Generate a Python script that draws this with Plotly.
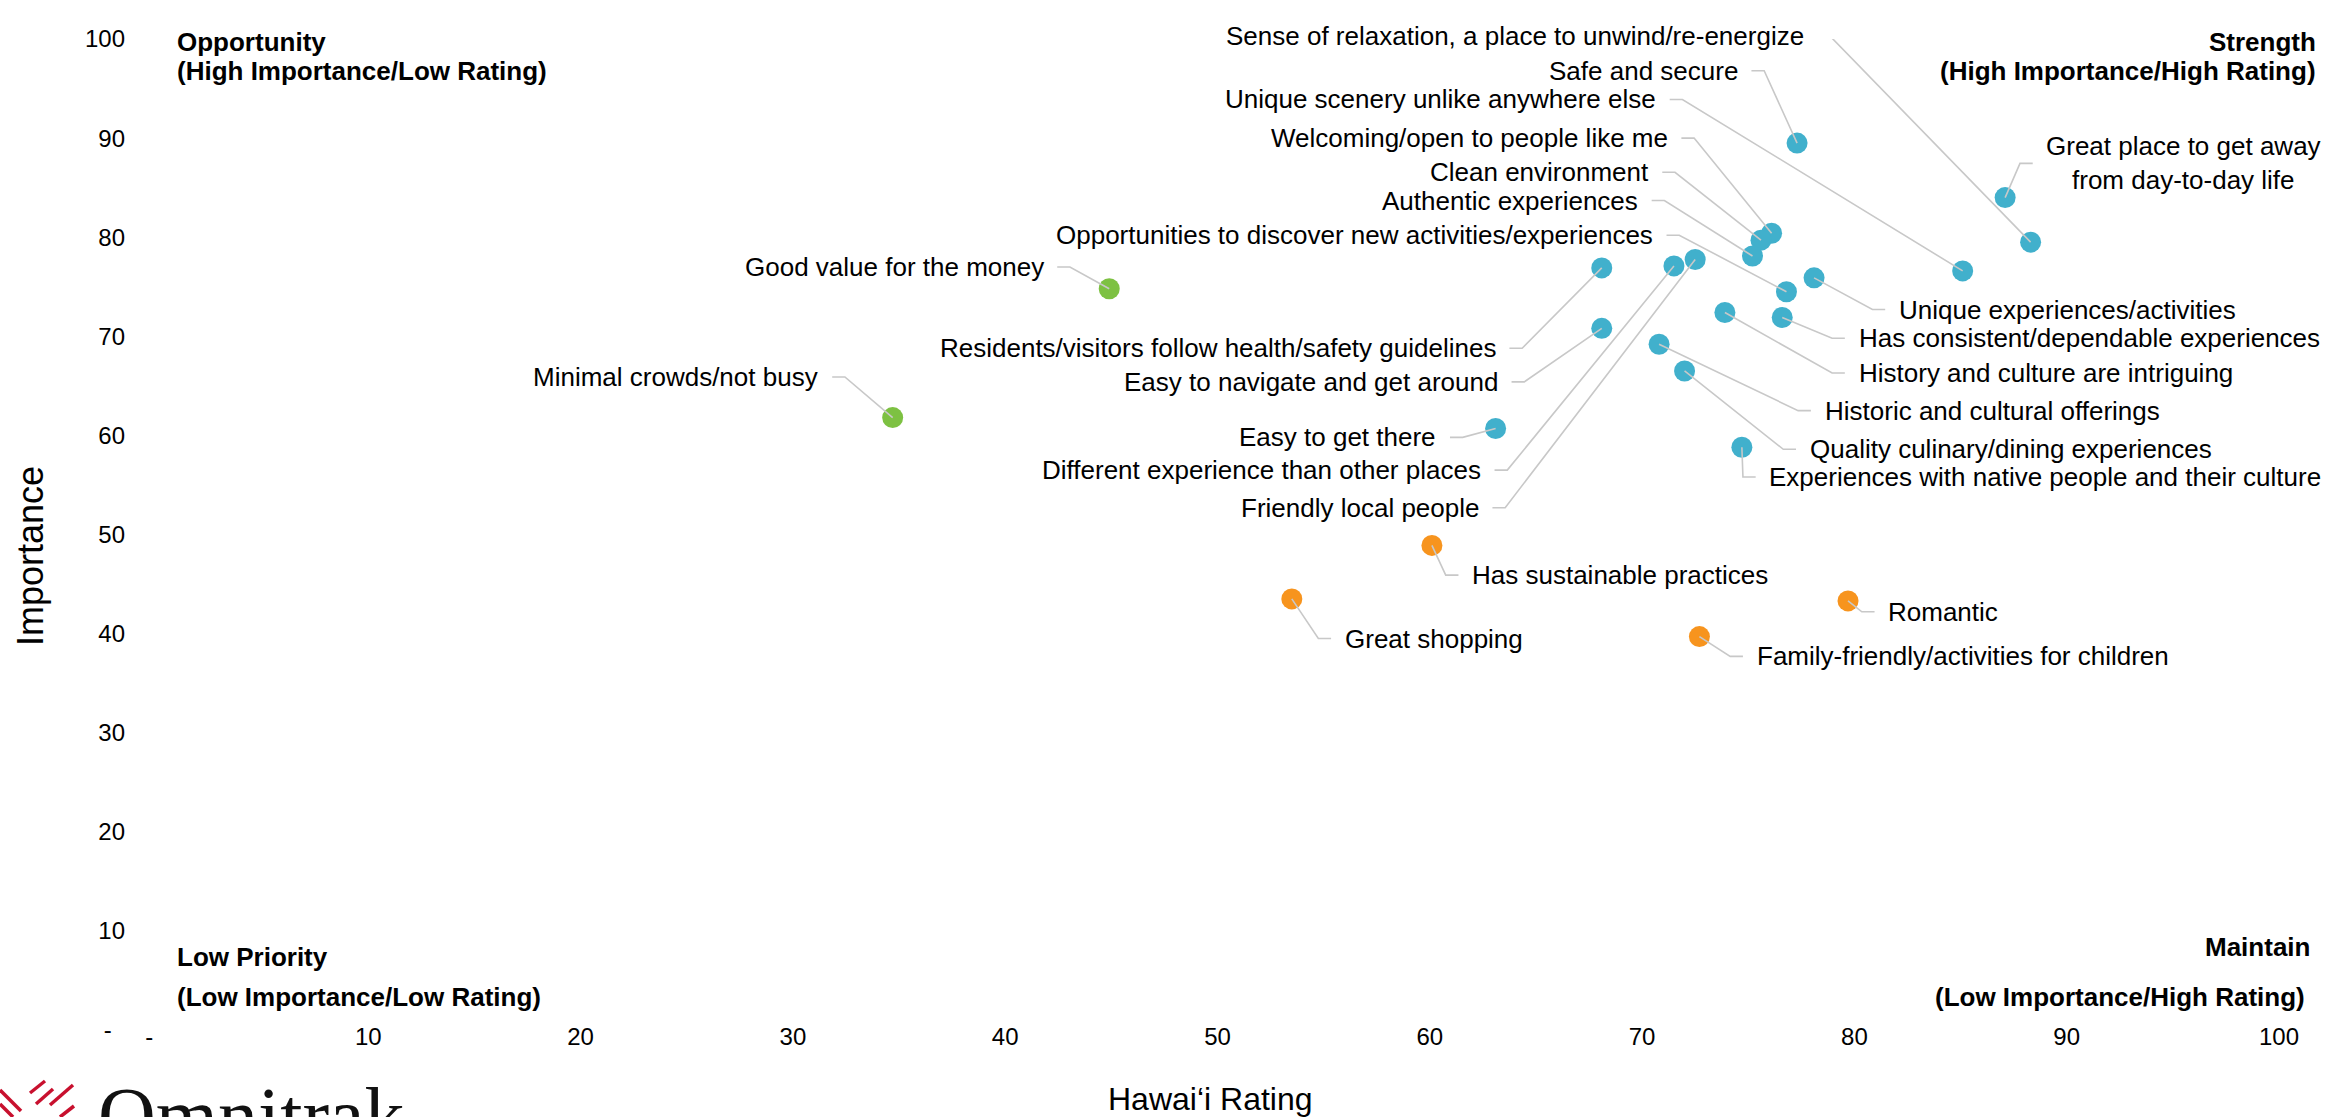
import plotly.graph_objects as go

# Hawai'i attribute scores: rating (x) vs importance (y)
attributes = [
    "Sense of relaxation, a place to unwind/re-energize",
    "Safe and secure",
    "Unique scenery unlike anywhere else",
    "Welcoming/open to people like me",
    "Clean environment",
    "Authentic experiences",
    "Opportunities to discover new activities/experiences",
    "Great place to get away<br>from day-to-day life",
    "Unique experiences/activities",
    "Has consistent/dependable experiences",
    "History and culture are intriguing",
    "Historic and cultural offerings",
    "Quality culinary/dining experiences",
    "Experiences with native people and their culture",
    "Residents/visitors follow health/safety guidelines",
    "Easy to navigate and get around",
    "Easy to get there",
    "Different experience than other places",
    "Friendly local people",
    "Good value for the money",
    "Minimal crowds/not busy",
    "Has sustainable practices",
    "Great shopping",
    "Romantic",
    "Family-friendly/activities for children",
]
rating = [88.3, 77.3, 85.1, 76.1, 75.6, 75.2, 76.8, 87.1, 78.1, 76.6, 73.9, 70.8, 72.0,
          74.7, 68.1, 68.1, 63.1, 71.5, 72.5, 44.9, 34.7, 60.1, 53.5, 79.7, 72.7]
importance = [79.5, 89.5, 76.6, 80.4, 79.7, 78.1, 74.5, 84.0, 75.9, 71.9, 72.4, 69.2, 66.5,
              58.8, 76.9, 70.8, 60.7, 77.1, 77.75, 74.8, 61.8, 48.9, 43.5, 43.3, 39.7]
group = ["Strength"] * 19 + ["Opportunity"] * 2 + ["Maintain"] * 4

x_ticks = [0, 10, 20, 30, 40, 50, 60, 70, 80, 90, 100]
x_tick_text = ["-\u00a0\u00a0", "10", "20", "30", "40", "50", "60", "70", "80", "90", "100"]
y_ticks = [0, 10, 20, 30, 40, 50, 60, 70, 80, 90, 100]
y_tick_text = ["-\u00a0\u00a0", "10", "20", "30", "40", "50", "60", "70", "80", "90", "100"]

# label placement (data units) and which side of the dot the text sits
label_x = [77.7, 74.6, 70.75, 71.3, 70.4, 69.9, 70.6, 88.95, 82.0, 80.1, 80.1, 78.5, 77.8,
           75.9, 63.2, 63.3, 60.4, 62.5, 62.4, 41.9, 31.3, 61.9, 55.9, 81.5, 75.3]
label_y = [100.3, 96.8, 93.9, 90.0, 86.55, 83.7, 80.2, 87.45, 72.7, 69.8, 66.3, 62.5, 58.6,
           55.8, 68.8, 65.4, 59.8, 56.5, 52.7, 77.0, 65.9, 45.9, 39.5, 42.2, 37.7]
label_side = ["L"] * 7 + ["R"] * 7 + ["L"] * 7 + ["R"] * 4

colors = {"Strength": "#41B0CC", "Opportunity": "#7DC142", "Maintain": "#F7941E"}
FONT = "Liberation Sans, Arial, sans-serif"

# plot area in pixels (figure 2328 x 1117)
L, R, T, B = 156, 49, 39, 87
W, H = 2328, 1117
PW, PH = W - L - R, H - T - B
X_RANGE = [0, 100]
Y_RANGE = [0, 100]


def paper_x(v):
    return (v - X_RANGE[0]) / (X_RANGE[1] - X_RANGE[0])


def paper_y(v):
    return (v - Y_RANGE[0]) / (Y_RANGE[1] - Y_RANGE[0])


def pix_x(X):
    return (X - L) / PW


def pix_y(Y):
    return (H - B - Y) / PH


fig = go.Figure()

for g in ["Strength", "Opportunity", "Maintain"]:
    idx = [i for i, v in enumerate(group) if v == g]
    fig.add_trace(go.Scatter(
        x=[rating[i] for i in idx], y=[importance[i] for i in idx],
        mode="markers", name=g,
        text=[attributes[i].replace("<br>", " ") for i in idx],
        hovertemplate="%{text}<br>Rating: %{x}<br>Importance: %{y}<extra></extra>",
        marker=dict(color=colors[g], size=21, line=dict(width=0)),
        cliponaxis=False,
    ))

# leader lines: dot -> elbow -> short horizontal stub next to the label
gap, stub = 0.55, 0.6
lx, ly = [], []
for i in range(len(attributes)):
    if label_side[i] == "L":
        x0 = label_x[i] + gap
        x1 = x0 + stub
    else:
        x0 = label_x[i] - gap
        x1 = x0 - stub
    lx += [x0, x1, rating[i], None]
    ly += [label_y[i], label_y[i], importance[i], None]
fig.add_trace(go.Scatter(x=lx, y=ly, mode="lines", hoverinfo="skip",
                         line=dict(color="#C8C8C8", width=1.6), cliponaxis=False))

for i, a in enumerate(attributes):
    fig.add_annotation(
        x=paper_x(label_x[i]), y=paper_y(label_y[i]), xref="paper", yref="paper",
        text=a, showarrow=False,
        xanchor="right" if label_side[i] == "L" else "left", yanchor="middle",
        align="center", font=dict(family=FONT, size=26, color="black"),
    )

# quadrant captions
quads = [
    ("<b>Opportunity</b>", 175, 42, "left"),
    ("<b>(High Importance/Low Rating)</b>", 175, 71, "left"),
    ("<b>Strength</b>", 2318, 42, "right"),
    ("<b>(High Importance/High Rating)</b>", 2318, 71, "right"),
    ("<b>Low Priority</b>", 175, 957, "left"),
    ("<b>(Low Importance/Low Rating)</b>", 175, 997, "left"),
    ("<b>Maintain</b>", 2312, 947, "right"),
    ("<b>(Low Importance/High Rating)</b>", 2307, 997, "right"),
]
for t, X, Y, anc in quads:
    fig.add_annotation(x=pix_x(X), y=pix_y(Y), xref="paper", yref="paper", text=t,
                       showarrow=False, xanchor=anc, yanchor="middle",
                       font=dict(family=FONT, size=26, color="black"))

# axis titles
fig.add_annotation(x=pix_x(1210), y=pix_y(1099), xref="paper", yref="paper",
                   text="Hawai‘i Rating", showarrow=False, xanchor="center", yanchor="middle",
                   font=dict(family=FONT, size=32, color="black"))
fig.add_annotation(x=pix_x(30), y=pix_y(556), xref="paper", yref="paper", text="Importance",
                   showarrow=False, textangle=-90, xanchor="center", yanchor="middle",
                   font=dict(family=FONT, size=36, color="black"))

# Omnitrak logo (cut off at the bottom edge)
fig.add_annotation(x=pix_x(96), y=pix_y(1070), xref="paper", yref="paper", text="Omnitrak",
                   showarrow=False, xanchor="left", yanchor="top",
                   font=dict(family="Liberation Serif, Times New Roman, serif", size=80,
                             color="#111111"))
logo_strokes = [((30, 1093), (45, 1081)), ((36, 1104), (53, 1089)), ((50, 1105), (73, 1085)),
                ((60, 1117), (74, 1106)), ((0, 1090), (21, 1111)), ((0, 1104), (13, 1117))]
for (X0, Y0), (X1, Y1) in logo_strokes:
    fig.add_shape(type="line", xref="paper", yref="paper",
                  x0=pix_x(X0), y0=pix_y(Y0), x1=pix_x(X1), y1=pix_y(Y1),
                  line=dict(color="#C8102E", width=3.5))

axis_common = dict(showgrid=False, zeroline=False, showline=False, ticks="",
                   tickfont=dict(family=FONT, size=24, color="black"), fixedrange=True)
fig.update_xaxes(range=X_RANGE, tickvals=x_ticks, ticktext=x_tick_text,
                 ticklabelstandoff=-10, **axis_common)
fig.update_yaxes(range=Y_RANGE, tickvals=y_ticks, ticktext=y_tick_text,
                 ticklabelstandoff=30, **axis_common)

fig.update_layout(width=W, height=H, margin=dict(l=L, r=R, t=T, b=B, autoexpand=False),
                  paper_bgcolor="white", plot_bgcolor="white", showlegend=False,
                  font=dict(family=FONT, color="black"))

fig.write_html("out.html", config={"displayModeBar": False},
               post_script="document.body.style.margin='0';")
